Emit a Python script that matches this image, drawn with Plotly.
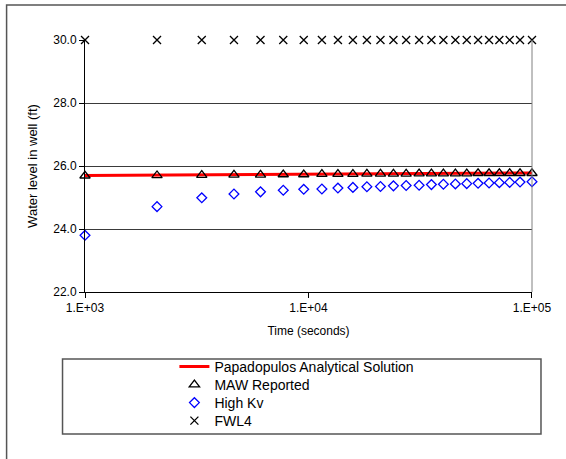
import plotly.graph_objects as go

times = [1000, 2100, 3330, 4640, 6100, 7710, 9520, 11480, 13540, 15800, 18250,
         20990, 23990, 27350, 31260, 35480, 40140, 45410, 51060, 57370, 64260,
         71450, 79470, 88400, 100000]
analytical = [25.70, 25.71, 25.72, 25.72, 25.73, 25.73, 25.74, 25.74, 25.74, 25.75,
              25.75, 25.75, 25.75, 25.76, 25.76, 25.76, 25.76, 25.76, 25.77, 25.77,
              25.77, 25.77, 25.77, 25.77, 25.78]
maw_reported = [25.69, 25.70, 25.71, 25.72, 25.72, 25.73, 25.73, 25.74, 25.74, 25.74,
                25.75, 25.75, 25.75, 25.75, 25.76, 25.76, 25.76, 25.76, 25.76, 25.77,
                25.77, 25.77, 25.77, 25.77, 25.77]
high_kv = [23.80, 24.71, 24.99, 25.11, 25.18, 25.23, 25.26, 25.27, 25.30, 25.32,
           25.34, 25.35, 25.37, 25.38, 25.39, 25.41, 25.42, 25.43, 25.44, 25.45,
           25.46, 25.47, 25.48, 25.49, 25.50]
fwl4 = [30.0] * 25

x_tickvals = [1e3, 1e4, 1e5]
x_ticktext = ["1.E+03", "1.E+04", "1.E+05"]
y_tickvals = [22, 24, 26, 28, 30]
y_ticktext = ["22.0", "24.0", "26.0", "28.0", "30.0"]

L, R, T, B = 84.5, 34, 40, 167
W, H = 566, 459
pw, ph = W - L - R, H - T - B

def px(x):
    return (x - L) / pw

def py(y):
    return (H - B - y) / ph

fig = go.Figure()
fig.add_trace(go.Scatter(x=times, y=analytical, mode="lines",
                         name="Papadopulos Analytical Solution", legend="legend",
                         cliponaxis=False,
                         line=dict(color="#ff0000", width=3)))
fig.add_trace(go.Scatter(x=times, y=maw_reported, mode="markers", name="MAW Reported",
                         legend="legend2", cliponaxis=False,
                         marker=dict(symbol="triangle-up-open", size=9,
                                     color="black", line=dict(width=1.3, color="black"))))
fig.add_trace(go.Scatter(x=times, y=high_kv, mode="markers", name="High Kv",
                         legend="legend3", cliponaxis=False,
                         marker=dict(symbol="diamond-open", size=7.5,
                                     color="#0000ff", line=dict(width=1.3, color="#0000ff"))))
fig.add_trace(go.Scatter(x=times, y=fwl4, mode="markers", name="FWL4",
                         legend="legend4", cliponaxis=False,
                         marker=dict(symbol="x-thin-open", size=8,
                                     color="black", line=dict(width=1.3, color="black"))))

leg_x = px(174)
rows = [367, 385, 403, 421]

def leg(yc):
    return dict(x=leg_x, y=py(yc), xanchor="left", yanchor="middle",
                bgcolor="rgba(0,0,0,0)", borderwidth=0, font=dict(size=14))

fig.update_layout(
    width=W, height=H,
    margin=dict(l=L, r=R, t=T, b=B),
    paper_bgcolor="white", plot_bgcolor="white",
    font=dict(family="Arial, Liberation Sans, sans-serif", size=12, color="black"),
    showlegend=True,
    legend=leg(rows[0]), legend2=leg(rows[1]), legend3=leg(rows[2]), legend4=leg(rows[3]),
    xaxis=dict(type="log", range=[2.99995, 5.00005], tickvals=x_tickvals, ticktext=x_ticktext,
               showgrid=False, showline=True, linecolor="black", linewidth=1,
               ticks="outside", ticklen=5, tickcolor="black", zeroline=False,
               tickfont=dict(size=12),
               title=dict(text="Time (seconds)", font=dict(size=12), standoff=12)),
    yaxis=dict(range=[21.9999, 30.0001], tickvals=y_tickvals, ticktext=y_ticktext,
               showgrid=True, gridcolor="#3a3a3a", gridwidth=1,
               showline=True, linecolor="black", linewidth=1,
               ticks="outside", ticklen=5, tickcolor="black", zeroline=False,
               tickfont=dict(size=12),
               title=dict(text="Water level in well (ft)", font=dict(size=13), standoff=12)),
    shapes=[
        dict(type="line", xref="paper", yref="paper", x0=1, x1=1, y0=0, y1=1,
             line=dict(color="#808080", width=1)),
        dict(type="rect", xref="paper", yref="paper",
             x0=px(62), x1=px(541), y0=py(359), y1=py(434),
             line=dict(color="#555555", width=1.5)),
        dict(type="rect", xref="paper", yref="paper",
             x0=px(6), x1=px(572), y0=py(5), y1=py(470),
             line=dict(color="#555555", width=1.5)),
    ],
)

fig.write_html("out.html")
